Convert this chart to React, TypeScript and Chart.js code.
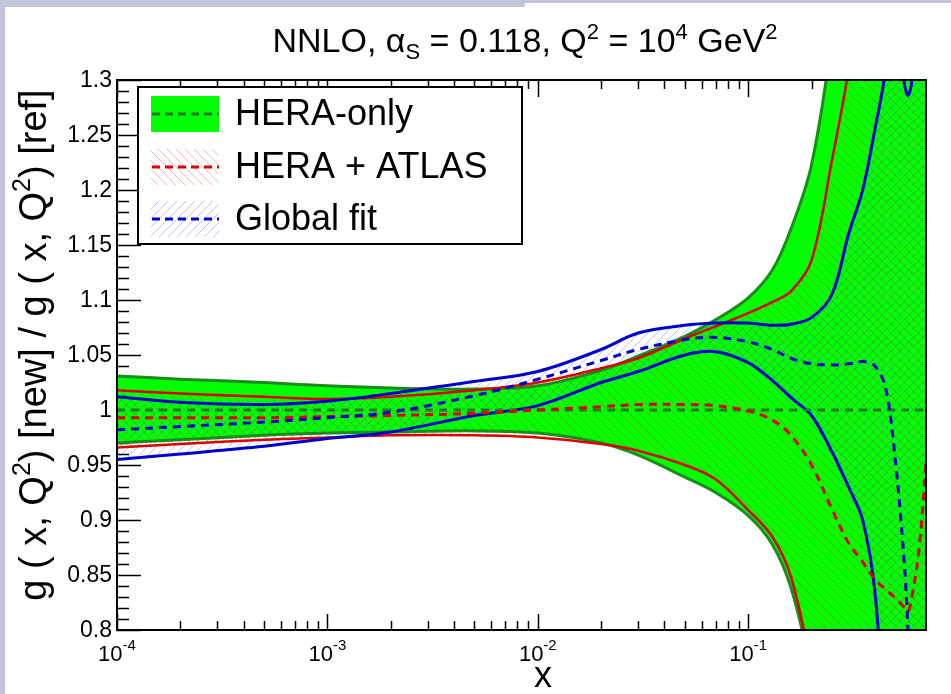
import React, { useEffect, useRef } from "react";
import { Chart, registerables } from "chart.js";

Chart.register(...registerables);

// ---------- data ----------
const X = [1e-4, 2e-4, 5e-4, 1e-3, 2e-3, 5e-3, 1e-2, 2e-2, 3e-2, 5e-2, 7e-2, 0.1, 0.13, 0.16, 0.2, 0.25, 0.3, 0.35, 0.4, 0.45, 0.5, 0.55, 0.575, 0.6, 0.65, 0.7];

const HERA_UP = [1.031, 1.028, 1.025, 1.022, 1.020, 1.019, 1.022, 1.036, 1.049, 1.067, 1.082, 1.102, 1.127, 1.165, 1.223, 1.34, 1.5, 1.65, 1.8, 1.95, 2.1, 2.25, 2.3, 2.4, 2.55, 2.7];
const HERA_LO = [0.970, 0.973, 0.977, 0.979, 0.980, 0.981, 0.979, 0.970, 0.959, 0.939, 0.925, 0.904, 0.878, 0.838, 0.76, 0.65, 0.55, 0.45, 0.35, 0.3, 0.25, 0.2, 0.2, 0.2, 0.2, 0.2];
const HERA_MID = [1, 1, 1, 1, 1, 1, 1, 1, 1, 1, 1, 1, 1, 1, 1, 1, 1, 1, 1, 1, 1, 1, 1, 1, 1, 1];

const ATLAS_UP = [1.018, 1.015, 1.012, 1.010, 1.012, 1.018, 1.025, 1.038, 1.047, 1.065, 1.076, 1.088, 1.098, 1.108, 1.136, 1.227, 1.31, 1.42, 1.55, 1.7, 1.85, 2.0, 2.05, 2.1, 2.2, 2.3];
const ATLAS_LO = [0.966, 0.969, 0.973, 0.975, 0.977, 0.977, 0.975, 0.969, 0.963, 0.950, 0.937, 0.909, 0.885, 0.848, 0.765, 0.66, 0.55, 0.45, 0.35, 0.3, 0.25, 0.2, 0.2, 0.2, 0.2, 0.2];
const ATLAS_MID = [0.993, 0.993, 0.993, 0.994, 0.995, 0.997, 1.000, 1.003, 1.005, 1.005, 1.004, 0.999, 0.991, 0.977, 0.950, 0.910, 0.879, 0.862, 0.846, 0.837, 0.829, 0.821, 0.817, 0.830, 0.875, 0.952];

const GLOBAL_UP = [1.012, 1.007, 1.005, 1.008, 1.015, 1.026, 1.035, 1.055, 1.070, 1.077, 1.079, 1.079, 1.077, 1.078, 1.084, 1.105, 1.16, 1.20, 1.255, 1.31, 1.42, 1.30, 1.286, 1.30, 1.42, 1.55];
const GLOBAL_LO = [0.955, 0.960, 0.967, 0.974, 0.980, 0.995, 1.004, 1.025, 1.035, 1.050, 1.053, 1.043, 1.027, 1.011, 0.995, 0.962, 0.930, 0.900, 0.835, 0.70, 0.6, 0.5, 0.5, 0.5, 0.5, 0.5];
const GLOBAL_MID = [0.982, 0.985, 0.989, 0.993, 0.998, 1.013, 1.028, 1.045, 1.055, 1.064, 1.066, 1.062, 1.055, 1.047, 1.042, 1.041, 1.042, 1.044, 1.040, 1.020, 0.955, 0.865, 0.80, 0.72, 0.6, 0.5];

const Y_TICKS = [0.8, 0.85, 0.9, 0.95, 1.0, 1.05, 1.1, 1.15, 1.2, 1.25, 1.3];
const Y_TICK_LABELS = ["0.8", "0.85", "0.9", "0.95", "1", "1.05", "1.1", "1.15", "1.2", "1.25", "1.3"];
const X_DECADES = [1e-4, 1e-3, 1e-2, 1e-1];
const X_EXPONENTS = ["-4", "-3", "-2", "-1"];
const LEGEND_LABELS = ["HERA-only", "HERA + ATLAS", "Global fit"];

// ---------- styles ----------
const W = 951;
const H = 694;
const GREEN = "#00ff00";
const DKGREEN = "#1a8c1a";
const MIDGREEN = "#237a23";
const RED = "#dd0000";
const BLUE = "#0000cc";
const LAV = "#c4c4da";
const FONT = '"Liberation Sans", Arial, Helvetica, sans-serif';
const f = (s: number) => `${s}px ${FONT}`;

type Part = { t: string; s: number; dy?: number };

function richWidth(ctx: CanvasRenderingContext2D, parts: Part[]) {
  let w = 0;
  for (const p of parts) {
    ctx.font = f(p.s);
    w += ctx.measureText(p.t).width;
  }
  return w;
}
function drawRich(ctx: CanvasRenderingContext2D, parts: Part[], x: number, y: number) {
  let cx = x;
  for (const p of parts) {
    ctx.font = f(p.s);
    ctx.fillText(p.t, cx, y + (p.dy || 0));
    cx += ctx.measureText(p.t).width;
  }
}

function makeHatch(ctx: CanvasRenderingContext2D, back: boolean, color: string, size = 9) {
  const c = document.createElement("canvas");
  c.width = size;
  c.height = size;
  const g = c.getContext("2d")!;
  g.strokeStyle = color;
  g.lineWidth = 1;
  g.beginPath();
  if (back) {
    g.moveTo(-1, -1); g.lineTo(size + 1, size + 1);
    g.moveTo(-1, size - 1); g.lineTo(1, size + 1);
    g.moveTo(size - 1, -1); g.lineTo(size + 1, 1);
  } else {
    g.moveTo(-1, size + 1); g.lineTo(size + 1, -1);
    g.moveTo(-1, 1); g.lineTo(1, -1);
    g.moveTo(size - 1, size + 1); g.lineTo(size + 1, size - 1);
  }
  g.stroke();
  return ctx.createPattern(c, "repeat")!;
}

export default function App() {
  const ref = useRef<HTMLCanvasElement | null>(null);

  useEffect(() => {
    const canvas = ref.current!;
    const ctx0 = canvas.getContext("2d")!;
    const redHatch = makeHatch(ctx0, true, "rgba(225,0,0,0.3)");
    const blueHatch = makeHatch(ctx0, false, "rgba(40,40,255,0.3)");

    const mk = (vals: number[]) => X.map((x, i) => ({ x, y: vals[i] }));
    const common = {
      pointRadius: 0,
      pointHoverRadius: 0,
      tension: 0.35,
      clip: 0,
    };

    const decor = {
      id: "decor",
      beforeDraw(chart: any) {
        const ctx: CanvasRenderingContext2D = chart.ctx;
        const { left, top, bottom } = chart.chartArea;
        const xs = chart.scales.x;
        const ys = chart.scales.y;
        ctx.save();
        ctx.fillStyle = "#ffffff";
        ctx.fillRect(0, 0, W, H);
        ctx.fillStyle = LAV;
        ctx.fillRect(0, 0, 5, H);
        ctx.fillRect(0, 0, 525, 7);
        ctx.fillRect(525, 0, W - 525, 3);

        ctx.strokeStyle = "#000";
        ctx.lineWidth = 1.5;
        ctx.beginPath();
        // y ticks (left, inward)
        for (let k = 0; k <= 50; k++) {
          const v = 0.8 + k * 0.01;
          const py = Math.round(ys.getPixelForValue(v)) + 0.5;
          const len = k % 5 === 0 ? 24 : 12;
          ctx.moveTo(left, py);
          ctx.lineTo(left + len, py);
        }
        // x ticks (bottom and top, inward)
        for (const d of X_DECADES) {
          for (let m = 1; m <= 9; m++) {
            const xv = m * d;
            if (xv < 1e-4 || xv > 0.7) continue;
            const px = Math.round(xs.getPixelForValue(xv)) + 0.5;
            const major = m === 1;
            ctx.moveTo(px, bottom);
            ctx.lineTo(px, bottom - (major ? 16 : 9));
            ctx.moveTo(px, top);
            ctx.lineTo(px, top + (major ? 17 : 9));
          }
        }
        ctx.stroke();
        ctx.restore();
      },
      afterDatasetsDraw(chart: any) {
        const ctx: CanvasRenderingContext2D = chart.ctx;
        const { left, right, top, bottom } = chart.chartArea;
        ctx.save();
        ctx.strokeStyle = "#000";
        ctx.lineWidth = 2;
        ctx.strokeRect(left, top, right - left, bottom - top);
        ctx.restore();
      },
      afterDraw(chart: any) {
        const ctx: CanvasRenderingContext2D = chart.ctx;
        const xs = chart.scales.x;
        const ys = chart.scales.y;
        const { left } = chart.chartArea;
        ctx.save();
        ctx.fillStyle = "#000";

        // y tick labels
        ctx.font = f(23);
        ctx.textAlign = "right";
        ctx.textBaseline = "middle";
        Y_TICKS.forEach((v, i) => {
          ctx.fillText(Y_TICK_LABELS[i], left - 5, ys.getPixelForValue(v) + 1);
        });

        // x tick labels
        ctx.textAlign = "left";
        ctx.textBaseline = "alphabetic";
        X_DECADES.forEach((v, i) => {
          const parts: Part[] = [
            { t: "10", s: 22 },
            { t: X_EXPONENTS[i], s: 15, dy: -11 },
          ];
          const w = richWidth(ctx, parts);
          drawRich(ctx, parts, xs.getPixelForValue(v) - w / 2, 661);
        });

        // x axis title
        ctx.textAlign = "center";
        ctx.font = f(36);
        ctx.fillText("x", 543, 687);
        ctx.textAlign = "left";

        // title
        const title: Part[] = [
          { t: "NNLO, \u03b1", s: 34 },
          { t: "S", s: 22, dy: 7 },
          { t: " = 0.118, Q", s: 34 },
          { t: "2", s: 22, dy: -13 },
          { t: " = 10", s: 34 },
          { t: "4", s: 22, dy: -13 },
          { t: " GeV", s: 34 },
          { t: "2", s: 22, dy: -13 },
        ];
        const tw = richWidth(ctx, title);
        drawRich(ctx, title, 525 - tw / 2, 52);

        // y axis title
        const yt: Part[] = [
          { t: "g ( x, Q", s: 38 },
          { t: "2", s: 25, dy: -16 },
          { t: ") [new] / g ( x, Q", s: 38 },
          { t: "2", s: 25, dy: -16 },
          { t: ") [ref]", s: 38 },
        ];
        const yw = richWidth(ctx, yt);
        ctx.save();
        ctx.translate(46, 345);
        ctx.rotate(-Math.PI / 2);
        drawRich(ctx, yt, -yw / 2, 0);
        ctx.restore();

        // legend
        const bx = 138, by = 87, bw = 384, bh = 157;
        ctx.fillStyle = "#fff";
        ctx.fillRect(bx, by, bw, bh);
        ctx.strokeStyle = "#000";
        ctx.lineWidth = 2;
        ctx.strokeRect(bx, by, bw, bh);
        const rows = [114, 167, 219];
        const fills: any[] = [GREEN, redHatch, blueHatch];
        const lines = [MIDGREEN, RED, BLUE];
        rows.forEach((cy, i) => {
          ctx.fillStyle = fills[i];
          ctx.fillRect(151, cy - 18, 68, 36);
          ctx.strokeStyle = lines[i];
          ctx.lineWidth = 3;
          ctx.setLineDash([8, 5]);
          ctx.beginPath();
          ctx.moveTo(152, cy);
          ctx.lineTo(219, cy);
          ctx.stroke();
          ctx.setLineDash([]);
          ctx.fillStyle = "#000";
          ctx.font = f(36);
          ctx.textBaseline = "middle";
          ctx.fillText(LEGEND_LABELS[i], 235, cy + 1);
          ctx.textBaseline = "alphabetic";
        });
        ctx.restore();
      },
    };

    const chart = new Chart(canvas, {
      type: "line",
      data: {
        datasets: [
          { ...common, label: "HERA-only up", data: mk(HERA_UP), borderColor: DKGREEN, borderWidth: 3, backgroundColor: GREEN, fill: "+1", order: 9 },
          { ...common, label: "HERA-only down", data: mk(HERA_LO), borderColor: DKGREEN, borderWidth: 3, fill: false, order: 8 },
          { ...common, label: "HERA + ATLAS up", data: mk(ATLAS_UP), borderColor: RED, borderWidth: 2.5, backgroundColor: redHatch, fill: "+1", order: 7 },
          { ...common, label: "HERA + ATLAS down", data: mk(ATLAS_LO), borderColor: RED, borderWidth: 2.5, fill: false, order: 6 },
          { ...common, label: "Global fit up", data: mk(GLOBAL_UP), borderColor: BLUE, borderWidth: 3, backgroundColor: blueHatch, fill: "+1", order: 5 },
          { ...common, label: "Global fit down", data: mk(GLOBAL_LO), borderColor: BLUE, borderWidth: 3, fill: false, order: 4 },
          { ...common, label: "HERA-only", data: mk(HERA_MID), borderColor: MIDGREEN, borderWidth: 3, borderDash: [8, 6], fill: false, order: 3 },
          { ...common, label: "HERA + ATLAS", data: mk(ATLAS_MID), borderColor: RED, borderWidth: 3, borderDash: [8, 6], fill: false, order: 2 },
          { ...common, label: "Global fit", data: mk(GLOBAL_MID), borderColor: BLUE, borderWidth: 3, borderDash: [8, 6], fill: false, order: 1 },
        ] as any,
      },
      options: {
        animation: false,
        responsive: false,
        devicePixelRatio: 1,
        events: [],
        layout: { padding: { left: 117, top: 80, right: 25, bottom: 64 } },
        plugins: {
          legend: { display: false },
          tooltip: { enabled: false },
          filler: { drawTime: "beforeDatasetsDraw" },
        } as any,
        scales: {
          x: { type: "logarithmic", min: 1e-4, max: 0.7, display: false },
          y: { type: "linear", min: 0.8, max: 1.3, display: false },
        },
      },
      plugins: [decor],
    });
    return () => chart.destroy();
  }, []);

  return (
    <div style={{ position: "absolute", left: 0, top: 0, width: W, height: H, overflow: "hidden" }}>
      <canvas ref={ref} width={W} height={H} style={{ display: "block", width: W, height: H }} />
    </div>
  );
}
